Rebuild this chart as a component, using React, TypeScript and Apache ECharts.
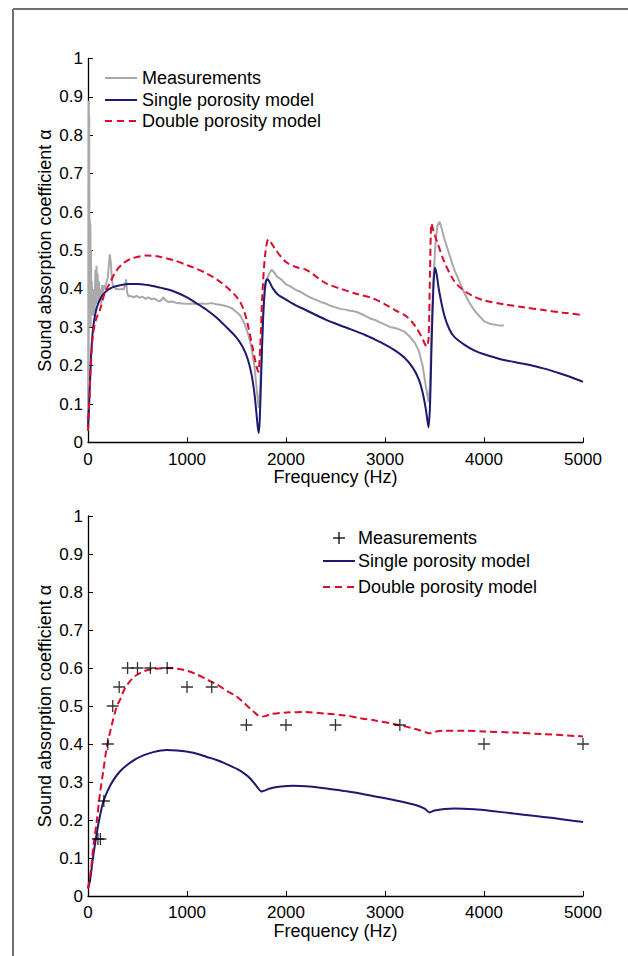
import React, { useEffect, useRef } from "react";
import * as echarts from "echarts";

// ---------- data ----------
const xTicks = [0, 1000, 2000, 3000, 4000, 5000];
const legendNames = ["Measurements", "Single porosity model", "Double porosity model"];
const yAxisTitle = "Sound absorption coefficient α";
const xAxisTitle = "Frequency (Hz)";

// top panel: measured absorption (impedance tube, continuous)
const topMeasured: [number, number][] = [
  [0, 0.05], [5, 0.3], [8, 0.89], [10, 0.6], [12, 0.85], [15, 0.45], [18, 0.58], [21, 0.35], [24, 0.57], [27, 0.3],
  [30, 0.5], [34, 0.35], [38, 0.42], [42, 0.33], [48, 0.38], [55, 0.33], [62, 0.4], [68, 0.34], [74, 0.45], [80, 0.36],
  [86, 0.46], [92, 0.38], [98, 0.44], [104, 0.36], [110, 0.42], [118, 0.37], [126, 0.4], [134, 0.36], [142, 0.41], [150, 0.39],
  [160, 0.41], [170, 0.4], [180, 0.41], [190, 0.42], [200, 0.43], [210, 0.46], [220, 0.49], [230, 0.47], [240, 0.43], [250, 0.41],
  [265, 0.405], [280, 0.4], [300, 0.4], [320, 0.398], [340, 0.4], [360, 0.398], [375, 0.41], [385, 0.425], [395, 0.39], [410, 0.38],
  [430, 0.382], [460, 0.378], [490, 0.382], [520, 0.377], [550, 0.38], [580, 0.374], [610, 0.378], [640, 0.373], [670, 0.375], [700, 0.37],
  [730, 0.368], [760, 0.378], [780, 0.371], [810, 0.366], [850, 0.367], [900, 0.363], [950, 0.362], [1000, 0.361], [1050, 0.362], [1100, 0.36],
  [1150, 0.362], [1200, 0.361], [1250, 0.363], [1300, 0.36], [1350, 0.358], [1400, 0.355], [1450, 0.35], [1500, 0.34], [1540, 0.33], [1580, 0.31],
  [1620, 0.28], [1650, 0.25], [1680, 0.2], [1700, 0.15], [1715, 0.11], [1725, 0.09], [1740, 0.15], [1760, 0.3], [1780, 0.38], [1800, 0.42],
  [1830, 0.44], [1855, 0.45], [1880, 0.443], [1910, 0.432], [1950, 0.425], [2000, 0.412], [2050, 0.406], [2100, 0.397], [2150, 0.392], [2200, 0.384],
  [2250, 0.377], [2300, 0.372], [2350, 0.366], [2400, 0.362], [2450, 0.356], [2500, 0.352], [2550, 0.348], [2600, 0.346], [2650, 0.343], [2700, 0.341],
  [2750, 0.336], [2800, 0.33], [2850, 0.323], [2900, 0.319], [2950, 0.313], [3000, 0.307], [3050, 0.301], [3100, 0.298], [3150, 0.294], [3200, 0.288],
  [3250, 0.276], [3300, 0.26], [3340, 0.24], [3380, 0.2], [3410, 0.15], [3430, 0.12], [3440, 0.105], [3455, 0.15], [3470, 0.3], [3490, 0.43],
  [3510, 0.52], [3530, 0.565], [3550, 0.575], [3570, 0.56], [3600, 0.53], [3650, 0.49], [3700, 0.45], [3750, 0.42], [3800, 0.39], [3850, 0.365],
  [3900, 0.345], [3950, 0.33], [4000, 0.316], [4050, 0.31], [4100, 0.307], [4150, 0.305], [4200, 0.305],
];

const topSingle: [number, number][] = [
  [0, 0.04], [15, 0.12], [30, 0.22], [45, 0.28], [60, 0.315], [90, 0.352], [130, 0.377], [180, 0.393], [230, 0.402], [300, 0.408],
  [400, 0.413], [500, 0.413], [600, 0.41], [700, 0.405], [800, 0.399], [900, 0.39], [1000, 0.378], [1100, 0.362], [1200, 0.345], [1300, 0.325],
  [1400, 0.3], [1500, 0.273], [1560, 0.25], [1610, 0.22], [1650, 0.18], [1680, 0.13], [1700, 0.08], [1715, 0.04], [1725, 0.025], [1735, 0.06],
  [1750, 0.18], [1770, 0.33], [1790, 0.41], [1810, 0.425], [1830, 0.42], [1870, 0.4], [1920, 0.385], [2000, 0.372], [2100, 0.357], [2200, 0.345],
  [2400, 0.32], [2600, 0.3], [2800, 0.28], [2900, 0.268], [3000, 0.255], [3100, 0.24], [3200, 0.22], [3280, 0.195], [3340, 0.165], [3380, 0.13],
  [3410, 0.09], [3430, 0.055], [3440, 0.04], [3455, 0.1], [3470, 0.25], [3490, 0.41], [3505, 0.455], [3520, 0.44], [3550, 0.39], [3600, 0.33],
  [3650, 0.295], [3700, 0.275], [3800, 0.255], [3900, 0.24], [4000, 0.23], [4200, 0.215], [4400, 0.205], [4600, 0.193], [4800, 0.177], [4900, 0.168],
  [5000, 0.158],
];

const topDouble: [number, number][] = [
  [0, 0.03], [15, 0.12], [30, 0.21], [50, 0.28], [80, 0.32], [120, 0.345], [170, 0.39], [220, 0.415], [280, 0.445], [357, 0.467],
  [450, 0.48], [593, 0.487], [700, 0.485], [862, 0.475], [1000, 0.462], [1100, 0.452], [1200, 0.44], [1300, 0.425], [1400, 0.405], [1480, 0.385],
  [1535, 0.367], [1580, 0.34], [1620, 0.3], [1660, 0.25], [1700, 0.2], [1720, 0.184], [1740, 0.25], [1760, 0.38], [1790, 0.49], [1822, 0.529],
  [1850, 0.52], [1900, 0.5], [2000, 0.47], [2100, 0.457], [2209, 0.449], [2400, 0.415], [2545, 0.401], [2700, 0.388], [2882, 0.375], [3000, 0.36],
  [3100, 0.345], [3219, 0.328], [3300, 0.305], [3370, 0.275], [3421, 0.25], [3440, 0.27], [3455, 0.45], [3470, 0.57], [3490, 0.55], [3530, 0.52],
  [3600, 0.47], [3700, 0.42], [3800, 0.395], [3900, 0.38], [4000, 0.37], [4200, 0.36], [4400, 0.352], [4600, 0.345], [4800, 0.338], [5000, 0.332],
];

// bottom panel: third-octave measurements (reverberation room)
const bottomMeasured: [number, number][] = [
  [100, 0.15], [125, 0.15], [160, 0.25], [200, 0.4], [250, 0.5], [315, 0.55], [400, 0.6], [500, 0.6], [630, 0.6],
  [800, 0.6], [1000, 0.55], [1250, 0.55], [1600, 0.45], [2000, 0.45], [2500, 0.45], [3150, 0.45], [4000, 0.4], [5000, 0.4],
];

const bottomSingle: [number, number][] = [
  [0, 0.02], [20, 0.04], [50, 0.1], [88, 0.165], [120, 0.21], [155, 0.248], [200, 0.278], [256, 0.305], [320, 0.327], [391, 0.344],
  [480, 0.36], [559, 0.37], [650, 0.378], [795, 0.384], [900, 0.383], [1064, 0.377], [1200, 0.366], [1300, 0.358], [1401, 0.347], [1500, 0.335],
  [1580, 0.322], [1636, 0.31], [1700, 0.29], [1754, 0.275], [1790, 0.278], [1838, 0.283], [1950, 0.288], [2074, 0.29], [2200, 0.289], [2411, 0.283],
  [2600, 0.276], [2747, 0.27], [2900, 0.262], [3100, 0.252], [3300, 0.24], [3400, 0.23], [3450, 0.22], [3500, 0.225], [3600, 0.229], [3700, 0.23],
  [3900, 0.228], [4100, 0.223], [4300, 0.217], [4500, 0.211], [4700, 0.205], [4900, 0.198], [5000, 0.195],
];

const bottomDouble: [number, number][] = [
  [0, 0.02], [30, 0.07], [54, 0.13], [90, 0.2], [121, 0.27], [155, 0.33], [189, 0.39], [240, 0.45], [290, 0.498], [330, 0.52],
  [374, 0.547], [458, 0.575], [550, 0.59], [650, 0.597], [795, 0.6], [900, 0.598], [1000, 0.593], [1100, 0.583], [1199, 0.57], [1300, 0.557],
  [1400, 0.54], [1500, 0.525], [1569, 0.51], [1650, 0.49], [1720, 0.475], [1754, 0.472], [1800, 0.474], [1850, 0.479], [2007, 0.483], [2200, 0.484],
  [2400, 0.48], [2600, 0.475], [2747, 0.468], [2900, 0.462], [3100, 0.452], [3300, 0.44], [3420, 0.43], [3450, 0.428], [3500, 0.432], [3600, 0.435],
  [3800, 0.435], [4000, 0.433], [4300, 0.43], [4600, 0.426], [5000, 0.42],
];

// ---------- styles ----------
const FONT = '"Liberation Sans", Arial, Helvetica, sans-serif';
const GRAY = "#a9a9a9";
const NAVY = "#1c1a70";
const RED = "#dc0a2c";

function makeAxes(gridIndex: number) {
  const xAxis = {
    type: "value",
    gridIndex,
    min: xTicks[0],
    max: xTicks[xTicks.length - 1],
    interval: xTicks[1] - xTicks[0],
    name: xAxisTitle,
    nameLocation: "middle",
    nameGap: 24,
    nameTextStyle: { fontSize: 18, color: "#000", fontFamily: FONT },
    axisLine: { show: true, lineStyle: { color: "#000", width: 1.3 } },
    axisTick: { show: true, inside: true, length: 5, lineStyle: { color: "#000", width: 1 } },
    axisLabel: {
      fontSize: 17,
      color: "#000",
      fontFamily: FONT,
      margin: 8,
      formatter: (v: number) => String(Math.round(v)),
    },
    splitLine: { show: false },
  };
  const yAxis = {
    type: "value",
    gridIndex,
    min: 0,
    max: 1,
    interval: 0.1,
    name: yAxisTitle,
    nameLocation: "middle",
    nameRotate: 90,
    nameGap: 34,
    nameMoveOverlap: false,
    nameTextStyle: { fontSize: 18, color: "#000", fontFamily: FONT },
    axisLine: { show: true, lineStyle: { color: "#000", width: 1.3 } },
    axisTick: { show: true, inside: true, length: 5, lineStyle: { color: "#000", width: 1 } },
    axisLabel: {
      fontSize: 17,
      color: "#000",
      fontFamily: FONT,
      margin: 5,
      formatter: (v: number) => String(Math.round(v * 10) / 10),
    },
    splitLine: { show: false },
  };
  return { xAxis, yAxis };
}

function legendGraphic(
  x0: number,
  x1: number,
  textX: number,
  rows: number[],
  firstIsCross: boolean
) {
  const els: any[] = [];
  const textStyle = (t: string, y: number) => ({
    type: "text",
    x: textX,
    y,
    style: {
      text: t,
      fill: "#000",
      fontSize: 18,
      fontFamily: FONT,
      verticalAlign: "middle",
      align: "left",
    },
  });
  if (firstIsCross) {
    const cx = (x0 + x1) / 2;
    els.push({ type: "line", shape: { x1: cx - 6, y1: rows[0], x2: cx + 6, y2: rows[0] }, style: { stroke: "#000", lineWidth: 1.3 } });
    els.push({ type: "line", shape: { x1: cx, y1: rows[0] - 6, x2: cx, y2: rows[0] + 6 }, style: { stroke: "#000", lineWidth: 1.3 } });
  } else {
    els.push({ type: "line", shape: { x1: x0, y1: rows[0], x2: x1, y2: rows[0] }, style: { stroke: GRAY, lineWidth: 2 } });
  }
  els.push({ type: "line", shape: { x1: x0, y1: rows[1], x2: x1, y2: rows[1] }, style: { stroke: NAVY, lineWidth: 2 } });
  els.push({
    type: "line",
    shape: { x1: x0, y1: rows[2], x2: x1, y2: rows[2] },
    style: { stroke: RED, lineWidth: 2, lineDash: [7, 5] },
  });
  legendNames.forEach((n, i) => els.push(textStyle(n, rows[i])));
  return els;
}

export default function App() {
  const ref = useRef<HTMLDivElement>(null);

  useEffect(() => {
    if (!ref.current) return;
    const chart = echarts.init(ref.current, undefined, { renderer: "svg" });
    const a0 = makeAxes(0);
    const a1 = makeAxes(1);

    const option: any = {
      animation: false,
      backgroundColor: "#fff",
      textStyle: { fontFamily: FONT },
      grid: [
        { left: 88, top: 58.5, width: 495, height: 384, containLabel: false },
        { left: 88, top: 516, width: 495, height: 380, containLabel: false },
      ],
      xAxis: [a0.xAxis, a1.xAxis],
      yAxis: [a0.yAxis, a1.yAxis],
      series: [
        {
          name: legendNames[0],
          type: "line",
          xAxisIndex: 0,
          yAxisIndex: 0,
          data: topMeasured,
          symbol: "none",
          lineStyle: { color: GRAY, width: 2 },
          z: 2,
        },
        {
          name: legendNames[1],
          type: "line",
          xAxisIndex: 0,
          yAxisIndex: 0,
          data: topSingle,
          symbol: "none",
          smooth: 0.3,
          lineStyle: { color: NAVY, width: 2 },
          z: 3,
        },
        {
          name: legendNames[2],
          type: "line",
          xAxisIndex: 0,
          yAxisIndex: 0,
          data: topDouble,
          symbol: "none",
          smooth: 0.3,
          lineStyle: { color: RED, width: 2, type: [7, 4] },
          z: 4,
        },
        {
          name: legendNames[0],
          type: "scatter",
          xAxisIndex: 1,
          yAxisIndex: 1,
          data: bottomMeasured,
          symbol: "path://M0,6 L12,6 M6,0 L6,12",
          symbolSize: 12,
          itemStyle: { color: "none", borderColor: "#000", borderWidth: 1.3 },
          z: 5,
        },
        {
          name: legendNames[1],
          type: "line",
          xAxisIndex: 1,
          yAxisIndex: 1,
          data: bottomSingle,
          symbol: "none",
          smooth: 0.3,
          lineStyle: { color: NAVY, width: 2 },
          z: 3,
        },
        {
          name: legendNames[2],
          type: "line",
          xAxisIndex: 1,
          yAxisIndex: 1,
          data: bottomDouble,
          symbol: "none",
          smooth: 0.3,
          lineStyle: { color: RED, width: 2, type: [7, 4] },
          z: 4,
        },
      ],
      graphic: [
        // page frame (left and top edges)
        { type: "line", shape: { x1: 13, y1: 9, x2: 628, y2: 9 }, style: { stroke: "#707070", lineWidth: 2 } },
        { type: "line", shape: { x1: 13, y1: 9, x2: 13, y2: 956 }, style: { stroke: "#707070", lineWidth: 2 } },
        ...legendGraphic(105, 137, 142, [78, 100, 121], false),
        ...legendGraphic(323, 355, 358, [538, 561, 587], true),
      ],
    };
    chart.setOption(option);
    return () => chart.dispose();
  }, []);

  return (
    <div
      ref={ref}
      style={{ position: "absolute", left: 0, top: 0, width: 628, height: 956, background: "#fff" }}
    />
  );
}
